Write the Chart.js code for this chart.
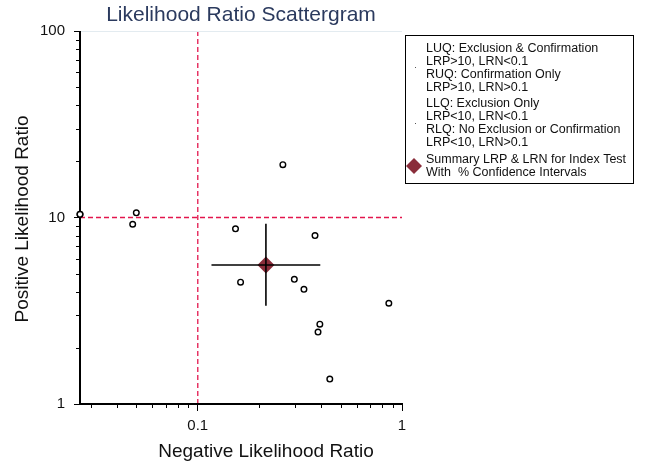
<!DOCTYPE html>
<html>
<head>
<meta charset="utf-8">
<script src="https://cdn.jsdelivr.net/npm/chart.js@4/dist/chart.umd.min.js"></script>
<style>
html,body{margin:0;padding:0;background:#fff;}
#wrap{width:646px;height:465px;position:relative;}
</style>
</head>
<body>
<div id="wrap"><canvas id="c" width="646" height="465"></canvas></div>
<script>
// ---- data ----
const studyLRN = [0.0265, 0.050, 0.048, 0.153, 0.261, 0.375, 0.162, 0.297, 0.331, 0.862, 0.396, 0.388, 0.443];
const studyLRP = [10.4, 10.6, 9.2, 8.7, 19.2, 8.0, 4.5, 4.66, 4.12, 3.47, 2.68, 2.43, 1.36];
const summaryLRN = 0.2156;
const summaryLRP = 5.56;
const ciLRN = [0.1167, 0.398];
const ciLRP = [3.36, 9.25];
const xTickLabels = [0.1, 1];
const yTickLabels = [1, 10, 100];
const xMinorTicks = [0.03, 0.04, 0.05, 0.06, 0.07, 0.08, 0.09, 0.2, 0.3, 0.4, 0.5, 0.6, 0.7, 0.8, 0.9];
const yMinorTicks = [2, 3, 4, 5, 6, 7, 8, 9, 20, 30, 40, 50, 60, 70, 80, 90];
const xRange = [0.0265, 1];
const yRange = [1, 100];
const refLRN = 0.1;
const refLRP = 10;
const titleText = 'Likelihood Ratio Scattergram';
const xTitle = 'Negative Likelihood Ratio';
const yTitle = 'Positive Likelihood Ratio';
const legendLines = [
  ['LUQ: Exclusion & Confirmation', 'LRP>10, LRN<0.1', 'RUQ: Confirmation Only', 'LRP>10, LRN>0.1'],
  ['LLQ: Exclusion Only', 'LRP<10, LRN<0.1', 'RLQ: No Exclusion or Confirmation', 'LRP<10, LRN>0.1'],
  ['Summary LRP & LRN for Index Test', 'With  % Confidence Intervals']
];

const FONT = '"Liberation Sans", Arial, Helvetica, sans-serif';
const MAROON = '#8a2d3a';
const REFRED = '#e3164d';

const studies = studyLRN.map((x, i) => ({x: x, y: studyLRP[i]}));

const decor = {
  id: 'decor',
  afterDraw(chart) {
    const ctx = chart.ctx, a = chart.chartArea;
    const xs = chart.scales.x, ys = chart.scales.y;
    const L = Math.round(a.left), B = Math.round(a.bottom);
    ctx.save();
    // top light line
    ctx.fillStyle = '#e3ebf0';
    ctx.fillRect(L, Math.round(a.top), Math.round(a.right) - L, 1);
    // spines (filled rectangles)
    ctx.fillStyle = '#000';
    ctx.fillRect(L - 1, Math.round(a.top), 2, B - Math.round(a.top) + 1);
    ctx.fillRect(L - 1, B - 1, Math.round(a.right) - L + 2, 2);
    // minor ticks
    xMinorTicks.forEach(v => {
      const px = Math.round(xs.getPixelForValue(v));
      ctx.fillRect(px, B, 1, 4);
    });
    yMinorTicks.forEach(v => {
      const py = Math.round(ys.getPixelForValue(v));
      ctx.fillRect(L - 4, py, 4, 1);
    });
    // redraw point at the left spine on top of it
    const p0x = xs.getPixelForValue(studyLRN[0]), p0y = ys.getPixelForValue(studyLRP[0]);
    ctx.fillStyle = '#fff';
    ctx.strokeStyle = '#000';
    ctx.lineWidth = 1.4;
    ctx.beginPath();
    ctx.arc(p0x, p0y, 2.8, 0, Math.PI * 2);
    ctx.fill();
    ctx.stroke();
    // title
    ctx.fillStyle = '#2b3a5e';
    ctx.font = '21px ' + FONT;
    ctx.textAlign = 'center';
    ctx.textBaseline = 'middle';
    ctx.fillText(titleText, (a.left + a.right) / 2, 15);
    // axis titles
    ctx.fillStyle = '#111';
    ctx.font = '19px ' + FONT;
    ctx.fillText(xTitle, 266, 452);
    ctx.save();
    ctx.translate(23, 219);
    ctx.rotate(-Math.PI / 2);
    ctx.fillText(yTitle, 0, 0);
    ctx.restore();
    // legend box
    const bx = 405.5, by = 35.5, bw = 228, bh = 148;
    ctx.fillStyle = '#fff';
    ctx.fillRect(bx, by, bw, bh);
    ctx.strokeStyle = '#000';
    ctx.lineWidth = 1;
    ctx.strokeRect(bx, by, bw, bh);
    ctx.fillStyle = '#111';
    ctx.font = '12.5px ' + FONT;
    ctx.textAlign = 'left';
    ctx.textBaseline = 'middle';
    const tx = 426;
    const lineYs = [[49, 62, 75, 88], [104, 117, 130, 143], [160, 173]];
    legendLines.forEach((grp, gi) => {
      grp.forEach((t, li) => ctx.fillText(t, tx, lineYs[gi][li]));
    });
    // tiny markers
    ctx.fillStyle = '#555';
    ctx.fillRect(415, 67, 1, 1);
    ctx.fillRect(415, 123, 1, 1);
    // diamond
    ctx.fillStyle = MAROON;
    ctx.beginPath();
    const dx = 414, dy = 166, dr = 8;
    ctx.moveTo(dx, dy - dr);
    ctx.lineTo(dx + dr, dy);
    ctx.lineTo(dx, dy + dr);
    ctx.lineTo(dx - dr, dy);
    ctx.closePath();
    ctx.fill();
    ctx.restore();
  }
};

new Chart(document.getElementById('c'), {
  type: 'scatter',
  data: {
    datasets: [
      {
        label: 'CI LRN',
        data: [{x: ciLRN[0], y: summaryLRP}, {x: ciLRN[1], y: summaryLRP}],
        showLine: true, borderColor: '#000', borderWidth: 1.6, pointRadius: 0, order: 0
      },
      {
        label: 'CI LRP',
        data: [{x: summaryLRN, y: ciLRP[0]}, {x: summaryLRN, y: ciLRP[1]}],
        showLine: true, borderColor: '#000', borderWidth: 1.6, pointRadius: 0, order: 0
      },
      {
        label: 'Summary',
        data: [{x: summaryLRN, y: summaryLRP}],
        pointStyle: 'rectRot', pointRadius: 8.5, backgroundColor: MAROON, borderColor: MAROON, borderWidth: 0, order: 1
      },
      {
        label: 'Studies',
        data: studies, clip: false,
        pointStyle: 'circle', pointRadius: 2.8, backgroundColor: '#fff', borderColor: '#000', borderWidth: 1.4, order: 2
      },
      {
        label: 'LRN ref',
        data: [{x: refLRN, y: yRange[0]}, {x: refLRN, y: yRange[1]}],
        showLine: true, borderColor: REFRED, borderWidth: 1.3, borderDash: [5, 3], pointRadius: 0, order: 3
      },
      {
        label: 'LRP ref',
        data: [{x: xRange[0], y: refLRP}, {x: xRange[1], y: refLRP}],
        showLine: true, borderColor: REFRED, borderWidth: 1.3, borderDash: [5, 3], pointRadius: 0, order: 3
      }
    ]
  },
  options: {
    responsive: false,
    animation: false,
    devicePixelRatio: 1,
    layout: {padding: {left: 0, top: 31, right: 244, bottom: 0}},
    plugins: {legend: {display: false}, tooltip: {enabled: false}, title: {display: false}},
    scales: {
      x: {
        type: 'logarithmic', min: xRange[0], max: xRange[1],
        afterBuildTicks: s => { s.ticks = xTickLabels.map(v => ({value: v})); },
        afterFit: s => { s.height = 61; },
        ticks: {
          color: '#111', font: {family: FONT, size: 15}, padding: 6, maxRotation: 0, autoSkip: false,
          callback: v => String(v)
        },
        grid: {display: true, drawOnChartArea: false, tickLength: 7, tickColor: '#000', tickWidth: 1},
        border: {display: false}
      },
      y: {
        type: 'logarithmic', min: yRange[0], max: yRange[1],
        afterBuildTicks: s => { s.ticks = yTickLabels.map(v => ({value: v})); },
        afterFit: s => { s.width = 80; },
        ticks: {
          color: '#111', font: {family: FONT, size: 15}, padding: 9, autoSkip: false,
          callback: v => String(v)
        },
        grid: {display: true, drawOnChartArea: false, tickLength: 6, tickColor: '#000', tickWidth: 1},
        border: {display: false}
      }
    }
  },
  plugins: [decor]
});
</script>
</body>
</html>
